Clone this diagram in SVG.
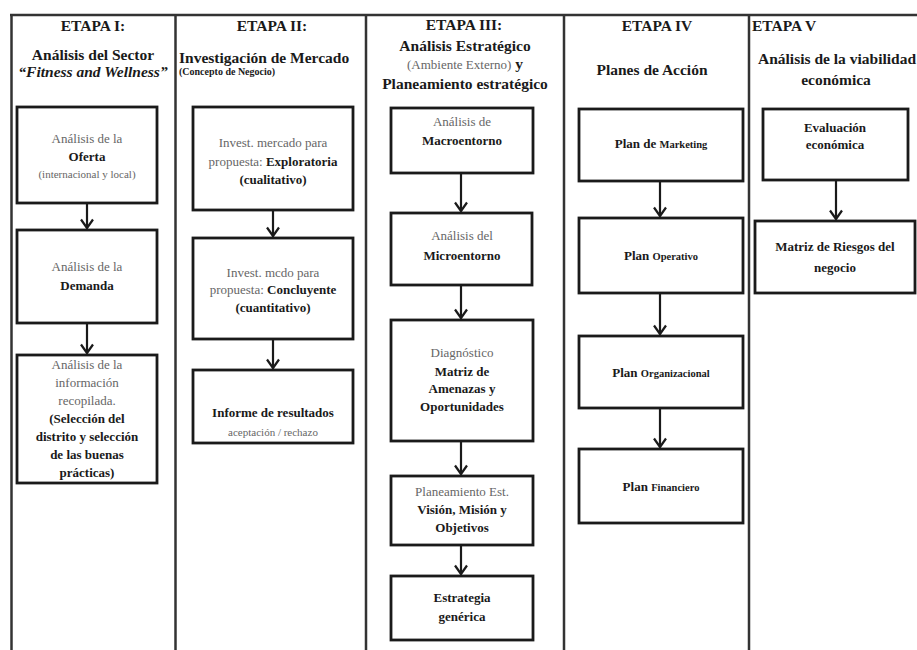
<svg xmlns="http://www.w3.org/2000/svg" width="917" height="650" viewBox="0 0 917 650">
<style>
text{font-family:"Liberation Serif","Times New Roman",serif;text-anchor:middle}
.h{font-size:15.5px;font-weight:bold;fill:#1a1a1a}
.r{font-size:13px;fill:#666}
.b{font-size:13px;font-weight:bold;fill:#1a1a1a}
.s{font-size:11px;fill:#666}
.frame{stroke:#333;stroke-width:2.5;fill:none}
.box{fill:#fff;stroke:#1a1a1a;stroke-width:2.8}
.con{stroke:#1a1a1a;stroke-width:2.2;fill:none;marker-end:url(#ah)}
</style>
<defs>
<marker id="ah" markerUnits="userSpaceOnUse" markerWidth="14" markerHeight="16" viewBox="-11 -8 13 16" refX="0" refY="0" orient="auto">
<path d="M-9,-6 L-0.5,0 L-9,6" fill="none" stroke="#1a1a1a" stroke-width="2.2"/>
</marker>
</defs>
<rect width="917" height="650" fill="#fff"/>
<g id="frame" class="frame">
<line x1="10" y1="15" x2="917" y2="15"/>
<line x1="11.5" y1="15" x2="11.5" y2="650"/>
<line x1="175.5" y1="15" x2="175.5" y2="650"/>
<line x1="366" y1="15" x2="366" y2="650"/>
<line x1="564" y1="15" x2="564" y2="650"/>
<line x1="749" y1="15" x2="749" y2="650"/>
</g>
<g id="headers">
<text class="h" x="93" y="31">ETAPA I:</text>
<text class="h" x="93" y="60">Análisis del Sector</text>
<text class="h" x="93" y="77" font-style="italic">“Fitness and Wellness”</text>
<text class="h" x="272" y="31">ETAPA II:</text>
<text class="h" x="179" y="63" style="text-anchor:start">Investigación de Mercado</text>
<text x="179" y="75" style="text-anchor:start;font-size:10px;font-weight:bold;fill:#1a1a1a">(Concepto de Negocio)</text>
<text class="h" x="464" y="30">ETAPA III:</text>
<text class="h" x="465" y="51">Análisis Estratégico</text>
<text x="465" y="69" style="font-size:13px;fill:#666">(Ambiente Externo)<tspan style="font-size:15.5px;font-weight:bold;fill:#1a1a1a"> y</tspan></text>
<text class="h" x="465" y="89">Planeamiento estratégico</text>
<text class="h" x="657" y="31">ETAPA IV</text>
<text class="h" x="652" y="75">Planes de Acción</text>
<text class="h" x="752" y="31" style="text-anchor:start">ETAPA V</text>
<text class="h" x="758" y="64" style="text-anchor:start">Análisis de la viabilidad</text>
<text class="h" x="836" y="85">económica</text>
</g>
<g id="n1">
<rect class="box" x="17" y="107" width="140" height="96"/>
<text class="r" x="87" y="143">Análisis de la</text>
<text class="b" x="87" y="161">Oferta</text>
<text class="s" x="87" y="178">(internacional y local)</text>
</g>
<g id="n2">
<rect class="box" x="17" y="230" width="140" height="93"/>
<text class="r" x="87" y="271">Análisis de la</text>
<text class="b" x="87" y="290">Demanda</text>
</g>
<g id="n3">
<rect class="box" x="17" y="355" width="140" height="128"/>
<text class="r" x="87" y="369">Análisis de la</text>
<text class="r" x="87" y="387">información</text>
<text class="r" x="87" y="405">recopilada.</text>
<text class="b" x="87" y="423">(Selección del</text>
<text class="b" x="87" y="441">distrito y selección</text>
<text class="b" x="87" y="459">de las buenas</text>
<text class="b" x="87" y="477">prácticas)</text>
</g>
<g id="n4">
<rect class="box" x="193" y="107" width="160" height="103"/>
<text class="r" x="273" y="147">Invest. mercado para</text>
<text class="r" x="273" y="166">propuesta: <tspan class="b">Exploratoria</tspan></text>
<text class="b" x="273" y="184">(cualitativo)</text>
</g>
<g id="n5">
<rect class="box" x="193" y="238" width="160" height="101"/>
<text class="r" x="273" y="277">Invest. mcdo para</text>
<text class="r" x="273" y="294">propuesta: <tspan class="b">Concluyente</tspan></text>
<text class="b" x="273" y="312">(cuantitativo)</text>
</g>
<g id="n6">
<rect class="box" x="193" y="370" width="160" height="73"/>
<text class="b" x="273" y="417">Informe de resultados</text>
<text class="s" x="273" y="436">aceptación / rechazo</text>
</g>
<g id="n7">
<rect class="box" x="391" y="108" width="142" height="65"/>
<text class="r" x="462" y="126">Análisis de</text>
<text class="b" x="462" y="145">Macroentorno</text>
</g>
<g id="n8">
<rect class="box" x="391" y="213" width="141" height="72"/>
<text class="r" x="462" y="240">Análisis del</text>
<text class="b" x="462" y="260">Microentorno</text>
</g>
<g id="n9">
<rect class="box" x="391" y="320" width="142" height="121"/>
<text class="r" x="462" y="357">Diagnóstico</text>
<text class="b" x="462" y="376">Matriz de</text>
<text class="b" x="462" y="393">Amenazas y</text>
<text class="b" x="462" y="411">Oportunidades</text>
</g>
<g id="n10">
<rect class="box" x="391" y="476" width="142" height="69"/>
<text class="r" x="462" y="496">Planeamiento Est.</text>
<text class="b" x="462" y="514">Visión, Misión y</text>
<text class="b" x="462" y="532">Objetivos</text>
</g>
<g id="n11">
<rect class="box" x="391" y="576" width="142" height="64"/>
<text class="b" x="462" y="602">Estrategia</text>
<text class="b" x="462" y="621">genérica</text>
</g>
<g id="n12">
<rect class="box" x="579" y="109" width="164" height="72"/>
<text class="b" x="661" y="148">Plan de <tspan style="font-size:10.5px">Marketing</tspan></text>
</g>
<g id="n13">
<rect class="box" x="579" y="218" width="164" height="75"/>
<text class="b" x="661" y="260">Plan <tspan style="font-size:10.5px">Operativo</tspan></text>
</g>
<g id="n14">
<rect class="box" x="579" y="336" width="164" height="72"/>
<text class="b" x="661" y="377">Plan <tspan style="font-size:10.5px">Organizacional</tspan></text>
</g>
<g id="n15">
<rect class="box" x="579" y="449" width="164" height="74"/>
<text class="b" x="661" y="491">Plan <tspan style="font-size:10.5px">Financiero</tspan></text>
</g>
<g id="n16">
<rect class="box" x="763" y="109" width="145" height="71"/>
<text class="b" x="835" y="132">Evaluación</text>
<text class="b" x="835" y="149">económica</text>
</g>
<g id="n17">
<rect class="box" x="755" y="221" width="160" height="72"/>
<text class="b" x="835" y="251">Matriz de Riesgos del</text>
<text class="b" x="835" y="272">negocio</text>
</g>
<g id="connectors">
<line class="con" x1="87" y1="204" x2="87" y2="228.5"/>
<line class="con" x1="87" y1="324" x2="87" y2="353.5"/>
<line class="con" x1="273" y1="211" x2="273" y2="236.5"/>
<line class="con" x1="273" y1="340" x2="273" y2="368.5"/>
<line class="con" x1="461" y1="174" x2="461" y2="211.5"/>
<line class="con" x1="461" y1="286" x2="461" y2="318.5"/>
<line class="con" x1="461" y1="442" x2="461" y2="474.5"/>
<line class="con" x1="461" y1="546" x2="461" y2="574.5"/>
<line class="con" x1="660" y1="182" x2="660" y2="216.5"/>
<line class="con" x1="660" y1="294" x2="660" y2="334.5"/>
<line class="con" x1="660" y1="409" x2="660" y2="447.5"/>
<line class="con" x1="836" y1="181" x2="836" y2="219.5"/>
</g>
</svg>
